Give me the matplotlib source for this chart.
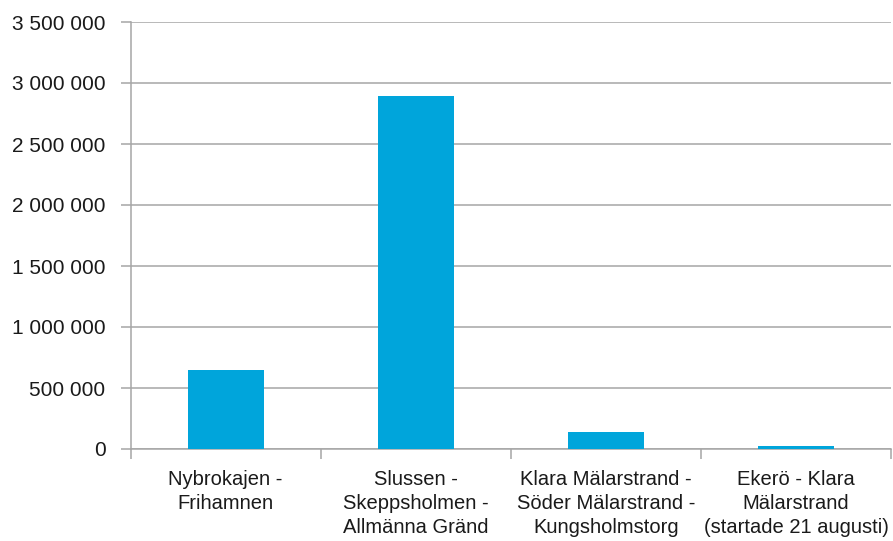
import numpy as np
import matplotlib.pyplot as plt
from matplotlib.ticker import FuncFormatter

# data
routes = ['Nybrokajen -\nFrihamnen',
          'Slussen -\nSkeppsholmen -\nAllmänna Gränd',
          'Klara Mälarstrand -\nSöder Mälarstrand -\nKungsholmstorg',
          'Ekerö - Klara\nMälarstrand\n(startade 21 augusti)']
passengers = [648000, 2890000, 137000, 22000]
yticks = [0, 500000, 1000000, 1500000, 2000000, 2500000, 3000000, 3500000]

plt.rcParams['font.family'] = ['Liberation Sans', 'DejaVu Sans']

fig = plt.figure(figsize=(8.93, 5.41), dpi=100)
ax = fig.add_axes([130.5/893, 1 - 449/541, (891 - 130.5)/893, (449 - 22)/541])

x = np.arange(len(routes))
ax.bar(x, passengers, width=0.4, color='#00a5db', zorder=3)

ax.set_xlim(-0.5, len(routes) - 0.5)
ax.set_ylim(0, 3500000)
ax.set_yticks(yticks)

def fmt(v, pos):
    return '{:,}'.format(int(v)).replace(',', ' ')

ax.yaxis.set_major_formatter(FuncFormatter(fmt))
ax.yaxis.grid(True, color='#a6a6a6', linewidth=1.1, zorder=0)

ax.set_xticks(x)
ax.set_xticklabels(routes, fontsize=14.5, linespacing=1.35, color='#1a1a1a')
ax.set_xticks(np.arange(-0.5, len(routes)), minor=True)
ax.tick_params(axis='x', which='major', length=0, pad=15)
ax.tick_params(axis='x', which='minor', length=7, color='#a6a6a6', width=1.1)
ax.tick_params(axis='y', length=7, color='#a6a6a6', width=1.1, pad=11,
               labelsize=15, labelcolor='#1a1a1a')

for s in ['top', 'right']:
    ax.spines[s].set_visible(False)
ax.spines['left'].set_color('#a6a6a6')
ax.spines['left'].set_linewidth(1.1)
ax.spines['bottom'].set_color('#a6a6a6')
ax.spines['bottom'].set_linewidth(1.1)

fig.savefig('out.png', dpi=100)
